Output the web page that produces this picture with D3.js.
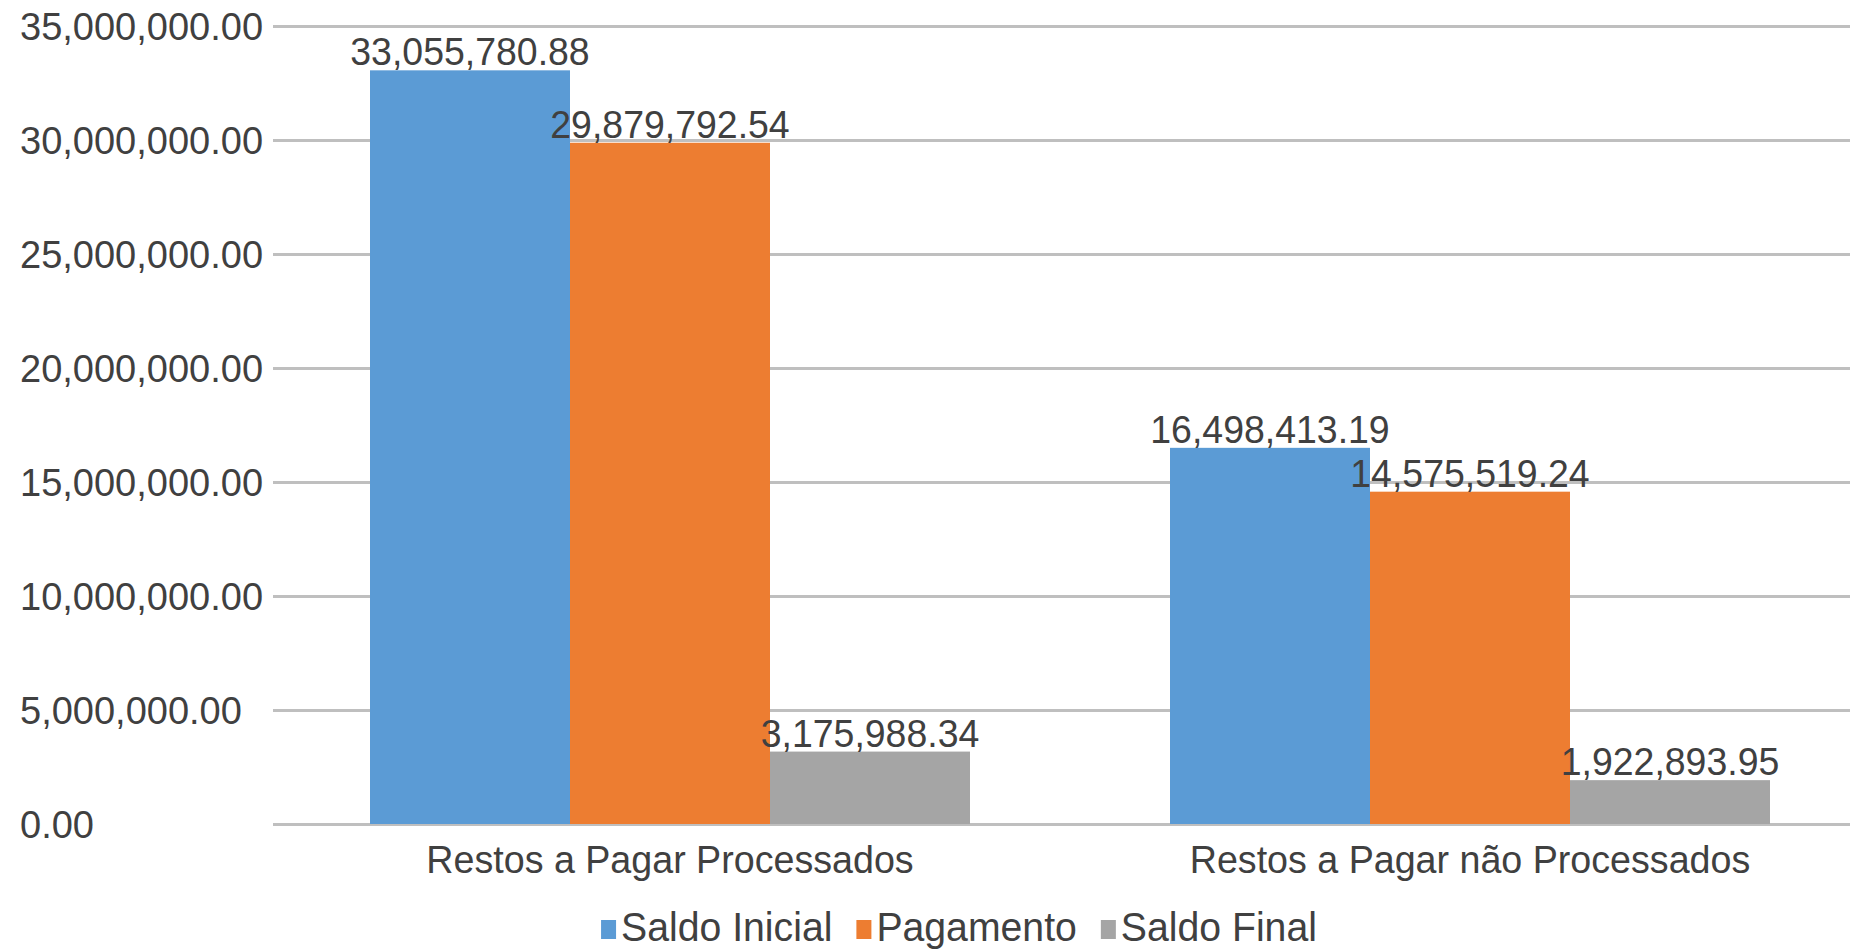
<!DOCTYPE html>
<html>
<head>
<meta charset="utf-8">
<script src="https://cdn.jsdelivr.net/npm/d3@7"></script>
<style>
  html, body { margin: 0; padding: 0; background: #fff; }
  svg { display: block; }
  text { font-family: "Liberation Sans", Arial, sans-serif; fill: #404040; }
</style>
</head>
<body>
<div id="chart"></div>
<script>
'use strict';

const categories = ['Restos a Pagar Processados', 'Restos a Pagar não Processados'];
const seriesNames = ['Saldo Inicial', 'Pagamento', 'Saldo Final'];
const seriesColors = ['#5b9bd5', '#ed7d31', '#a5a5a5'];
const saldoInicial = [33055780.88, 16498413.19];
const pagamento = [29879792.54, 14575519.24];
const saldoFinal = [3175988.34, 1922893.95];
const yTicks = [0, 5000000, 10000000, 15000000, 20000000, 25000000, 30000000, 35000000];

const W = 1850;
const H = 949;
const plot = { left: 270, right: 1870, top: 26, bottom: 824 };
const fmt = d3.format(',.2f');

const seriesValues = [saldoInicial, pagamento, saldoFinal];

const svg = d3.select('#chart').append('svg')
  .attr('width', W)
  .attr('height', H);

const x0 = d3.scaleBand()
  .domain(categories)
  .range([plot.left, plot.right])
  .paddingInner(0.25)
  .paddingOuter(0.125);

const x1 = d3.scaleBand()
  .domain(seriesNames)
  .range([0, x0.bandwidth()]);

const y = d3.scaleLinear()
  .domain([0, 35000000])
  .range([plot.bottom, plot.top]);

// squeeze text a bit horizontally, the source font is narrower than Arial
function squeezed(sel, sx) {
  sel.each(function() {
    const t = d3.select(this);
    const tx = +t.attr('x') || 0;
    const ty = +t.attr('y') || 0;
    t.attr('transform', `translate(${tx},${ty}) scale(${sx},1) translate(${-tx},${-ty})`);
  });
  return sel;
}

// grid + tick labels
const yAxis = svg.append('g')
  .attr('transform', `translate(${plot.left},0)`)
  .call(d3.axisLeft(y).tickValues(yTicks).tickSize(-(plot.right - plot.left)).tickFormat(fmt));

yAxis.select('.domain').remove();
yAxis.selectAll('.tick line')
  .attr('x1', 3)
  .attr('stroke', '#bfbfbf')
  .attr('stroke-width', 3);
yAxis.selectAll('.tick text')
  .attr('x', 20 - plot.left)
  .attr('dy', '0.36em')
  .attr('text-anchor', 'start')
  .style('font-size', '38px')
  .style('font-family', '"Liberation Sans", Arial, sans-serif')
  .attr('fill', '#404040');

// bars
const rows = [];
categories.forEach((cat, i) => {
  seriesNames.forEach((name, j) => {
    rows.push({ cat, name, color: seriesColors[j], value: seriesValues[j][i] });
  });
});

svg.append('g').selectAll('rect')
  .data(rows)
  .join('rect')
  .attr('x', d => x0(d.cat) + x1(d.name))
  .attr('y', d => y(d.value))
  .attr('width', x1.bandwidth())
  .attr('height', d => y(0) - y(d.value))
  .attr('fill', d => d.color);

// value labels
svg.append('g').selectAll('text')
  .data(rows)
  .join('text')
  .attr('x', d => x0(d.cat) + x1(d.name) + x1.bandwidth() / 2)
  .attr('y', d => y(d.value) - 5)
  .attr('text-anchor', 'middle')
  .style('font-size', '39px')
  .text(d => fmt(d.value))
  .call(squeezed, 0.96);

// category labels
svg.append('g').selectAll('text')
  .data(categories)
  .join('text')
  .attr('x', d => x0(d) + x0.bandwidth() / 2)
  .attr('y', 873)
  .attr('text-anchor', 'middle')
  .style('font-size', '39px')
  .text(d => d)
  .call(squeezed, 0.965);

// legend
const legend = svg.append('g');
const legendItems = legend.selectAll('g')
  .data(seriesNames)
  .join('g');

legendItems.append('rect')
  .attr('width', 15)
  .attr('height', 19)
  .attr('y', 920)
  .attr('fill', (d, i) => seriesColors[i]);

legendItems.append('text')
  .attr('x', 20)
  .attr('y', 941)
  .style('font-size', '40px')
  .text(d => d)
  .call(squeezed, 0.98);

let cursor = 0;
const offsets = [];
legendItems.each(function() {
  offsets.push(cursor);
  const w = this.getBBox().width;
  cursor += w + 24;
});
const legendWidth = cursor - 24;
const legendStart = 959 - legendWidth / 2;
legendItems.attr('transform', (d, i) => `translate(${legendStart + offsets[i]},0)`);
</script>
</body>
</html>
